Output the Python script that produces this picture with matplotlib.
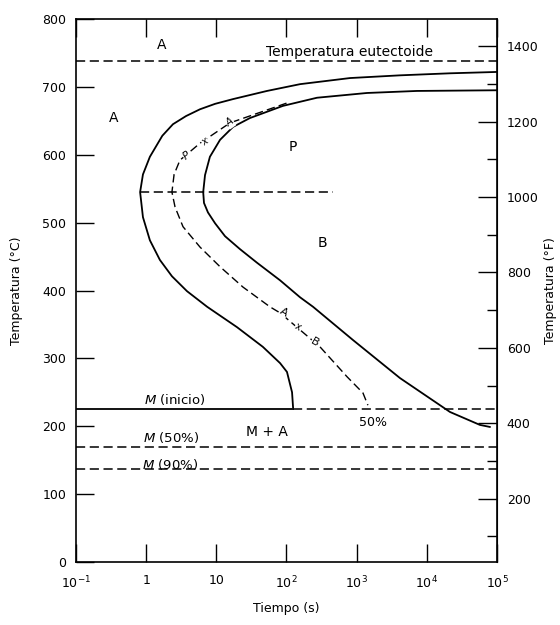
import matplotlib
matplotlib.use("Agg")
import matplotlib.pyplot as plt

plt.rcParams['font.family'] = ['DejaVu Sans']

# curva de inicio - tiempo (s), temperatura (C)
inicio_t = [100000, 21400, 4140, 804, 156, 52.7, 17.3, 9.6, 5.85, 3.70, 2.41, 1.70, 1.13,
            0.90, 0.82, 0.90, 1.13, 1.57, 2.33, 3.82, 7.4, 19.7, 46, 81, 101.6, 120, 124]
inicio_T = [722, 720, 717, 713, 704, 694, 682, 675, 667, 657, 645, 628, 597,
            571, 545, 508, 474, 445, 421, 399, 376, 346, 317, 293, 280, 250, 228]

# curva de fin
fin_t = [100000, 7200, 1400, 272, 89, 30, 17.3, 11.3, 8.1, 6.9, 6.5, 6.67, 7.6, 9.6,
         13.3, 21.7, 37.9, 81, 156, 239, 887, 4140, 21400, 57000, 79000]
fin_T = [695, 694, 691, 684, 672, 654, 641, 622, 597, 570, 545, 529, 515, 499,
         480, 461, 441, 415, 390, 376, 327, 271, 221, 202, 199]

# curva del 50%
medio_t = [100, 15.7, 5.85, 3.03, 2.5, 2.33, 2.58, 3.35, 5.85, 11.3, 24, 58, 81,
           300, 728, 1230, 1445]
medio_T = [676, 647, 617, 592, 571, 545, 523, 494, 464, 435, 405, 376, 367,
           317, 273, 249, 231]

t_min, t_max = 0.1, 1e5
T_eutectoide = 738
T_nariz = 545
t_nariz = [0.82, 457]
Ms, M50, M90 = 225, 170, 137
t_ms = 124

xticks = [0.1, 1, 10, 100, 1000, 10000, 100000]
xlabels = ['10$^{-1}$', '1', '10', '10$^2$', '10$^3$', '10$^4$', '10$^5$']
yticks = [0, 100, 200, 300, 400, 500, 600, 700, 800]
fticks = [200, 400, 600, 800, 1000, 1200, 1400]
fminor = [100, 300, 500, 700, 900, 1100, 1300]

fig = plt.figure(figsize=(5.6, 6.25), dpi=100)
ax = fig.add_axes([0.1357, 0.1008, 0.7518, 0.8688])

ax.set_xscale('log')
ax.set_xlim(t_min, t_max)
ax.set_ylim(0, 800)

lw = 1.3
dash = (0, (6, 3))
ax.plot(inicio_t, inicio_T, color='black', lw=lw)
ax.plot(fin_t, fin_T, color='black', lw=lw)
ax.plot(medio_t, medio_T, color='black', lw=1.0, linestyle=dash)

ax.plot([t_min, t_max], [T_eutectoide, T_eutectoide], color='black', lw=1.1, linestyle=dash)
ax.plot(t_nariz, [T_nariz, T_nariz], color='black', lw=1.1, linestyle=dash)
ax.plot([t_min, t_ms], [Ms, Ms], color='black', lw=lw)
ax.plot([t_ms, t_max], [Ms, Ms], color='black', lw=1.1, linestyle=dash)
ax.plot([t_min, t_max], [M50, M50], color='black', lw=1.1, linestyle=dash)
ax.plot([t_min, t_max], [M90, M90], color='black', lw=1.1, linestyle=dash)

# etiquetas
fs = 10
caja = dict(facecolor='white', edgecolor='none', pad=0.3)
ax.text(1.68, 762, 'A', fontsize=fs, ha='center', va='center')
ax.text(0.34, 654, 'A', fontsize=fs, ha='center', va='center')
ax.text(800, 751, 'Temperatura eutectoide', fontsize=10, ha='center', va='center')
ax.text(123, 611, 'P', fontsize=fs, ha='center', va='center')
ax.text(324, 470, 'B', fontsize=fs, ha='center', va='center')
ax.text(3.8, 598, 'P', fontsize=7.5, style='italic', ha='center', va='center',
        rotation=35, bbox=caja)
ax.text(6.9, 619, 'x', fontsize=7, style='italic', ha='center', va='center',
        rotation=35, bbox=caja)
ax.text(15.7, 647, 'A', fontsize=7.5, style='italic', ha='center', va='center',
        rotation=35, bbox=caja)
ax.text(92, 368, 'A', fontsize=8, ha='center', va='center', rotation=-30, bbox=caja)
ax.text(146, 346, 'x', fontsize=7, ha='center', va='center', rotation=-30, bbox=caja)
ax.text(255, 323, 'B', fontsize=8, ha='center', va='center', rotation=-30, bbox=caja)
ax.text(2.6, 239, '$M$ (inicio)', fontsize=9.5, ha='center', va='center')
ax.text(2.3, 184, '$M$ (50%)', fontsize=9.5, ha='center', va='center')
ax.text(2.2, 144, '$M$ (90%)', fontsize=9.5, ha='center', va='center')
ax.text(52, 191, 'M + A', fontsize=fs, ha='center', va='center')
ax.text(1700, 205, '50%', fontsize=9, ha='center', va='center')

ax.set_xticks(xticks)
ax.set_xticklabels(xlabels)
ax.xaxis.set_minor_locator(matplotlib.ticker.NullLocator())
ax.set_yticks(yticks)
ax.tick_params(axis='x', which='major', direction='in', length=13, width=1,
               top=True, labelsize=9, pad=9)
ax.tick_params(axis='y', which='major', direction='in', length=13, width=1,
               labelsize=9, pad=7)
ax.set_xlabel('Tiempo (s)', fontsize=9, labelpad=8)
ax.set_ylabel('Temperatura (°C)', fontsize=9, labelpad=14)

sec = ax.secondary_yaxis('right', functions=(lambda c: c * 9 / 5 + 32,
                                             lambda f: (f - 32) * 5 / 9))
sec.set_yticks(fticks)
sec.set_yticks(fminor, minor=True)
sec.tick_params(axis='y', which='major', direction='in', length=14, width=1,
                labelsize=9, pad=7)
sec.tick_params(axis='y', which='minor', direction='in', length=7, width=1)
sec.set_ylabel('Temperatura (°F)', fontsize=9, rotation=90, labelpad=4)

for s in ax.spines.values():
    s.set_linewidth(1.2)

fig.savefig('out.png', dpi=100)
